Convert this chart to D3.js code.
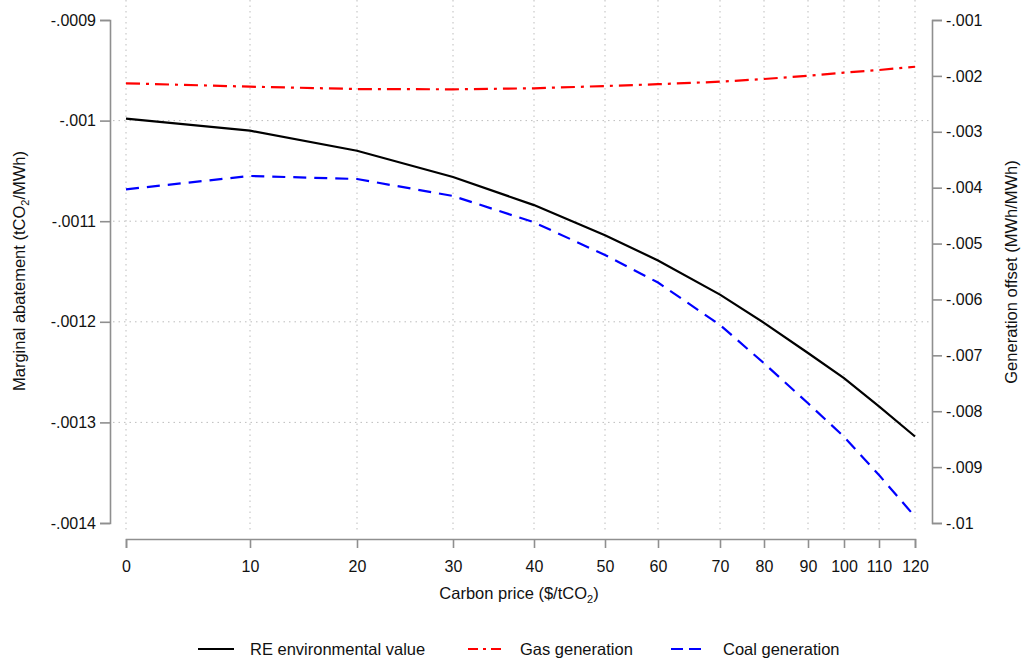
<!DOCTYPE html>
<html>
<head>
<meta charset="utf-8">
<script src="https://cdn.jsdelivr.net/npm/d3@7"></script>
<style>
  body { margin: 0; background: #fff; }
  svg { font-family: "Liberation Sans", Arial, sans-serif; }
  .grid line { stroke: #bdbdbd; stroke-width: 1; stroke-dasharray: 1.5 4; }
  .axis path, .axis line { stroke: #8f8f8f; stroke-width: 1.6; }
  .axis text { fill: #111; font-size: 16px; }
</style>
</head>
<body>
<div id="chart"></div>
<script>

// Carbon price categories (x) and where the original tick grid sits
const prices = [0, 10, 20, 30, 40, 50, 60, 70, 80, 90, 100, 110, 120];
const priceSpots = [126, 250, 357, 453, 534, 605, 658, 720, 764, 808, 844, 879, 915];

// RE environmental value (left axis, tCO2/MWh)
const reValue = [-0.000998, -0.001010, -0.001030, -0.001056, -0.001084, -0.001114, -0.001139,
                 -0.001173, -0.001201, -0.001231, -0.001256, -0.001284, -0.001314];
// Gas generation offset (right axis, MWh/MWh)
const gasGen = [-0.002133, -0.002193, -0.002235, -0.002240, -0.002222, -0.002181, -0.002149,
                -0.002104, -0.002056, -0.001997, -0.001943, -0.001895, -0.001836];
// Coal generation offset (right axis, MWh/MWh)
const coalGen = [-0.004029, -0.003791, -0.003845, -0.004149, -0.004620, -0.005205, -0.005697,
                 -0.006457, -0.007142, -0.007858, -0.008456, -0.009141, -0.009887];

const leftTicks = [-0.0009, -0.0010, -0.0011, -0.0012, -0.0013, -0.0014];
const leftLabels = ["-.0009", "-.001", "-.0011", "-.0012", "-.0013", "-.0014"];
const rightTicks = [-0.001, -0.002, -0.003, -0.004, -0.005, -0.006, -0.007, -0.008, -0.009, -0.010];
const rightLabels = ["-.001", "-.002", "-.003", "-.004", "-.005", "-.006", "-.007", "-.008", "-.009", "-.01"];

const width = 1026, height = 664;

const svg = d3.select("#chart").append("svg")
    .attr("width", width)
    .attr("height", height);

// Scales
const x = d3.scaleLinear().domain(prices).range(priceSpots);
const yL = d3.scaleLinear().domain([-0.0009, -0.0014]).range([20, 523]);
const yR = d3.scaleLinear().domain([-0.001, -0.010]).range([20, 523]);

// Grid
const grid = svg.append("g").attr("class", "grid");
grid.selectAll(".vg").data(prices).enter().append("line")
    .attr("x1", d => x(d)).attr("x2", d => x(d))
    .attr("y1", 0).attr("y2", 532);
grid.selectAll(".hg").data(leftTicks.slice(1, -1)).enter().append("line")
    .attr("x1", 113).attr("x2", 930)
    .attr("y1", d => yL(d)).attr("y2", d => yL(d));

// Axes
const leftAxis = d3.axisLeft(yL).tickValues(leftTicks)
    .tickFormat((d, i) => leftLabels[i]).tickSizeOuter(0).tickSize(10).tickPadding(4);
svg.append("g").attr("class", "axis")
    .attr("transform", "translate(110,0)")
    .call(leftAxis);

const rightAxis = d3.axisRight(yR).tickValues(rightTicks)
    .tickFormat((d, i) => rightLabels[i]).tickSizeOuter(0).tickSize(10).tickPadding(4);
svg.append("g").attr("class", "axis")
    .attr("transform", "translate(932,0)")
    .call(rightAxis);

const bottomAxis = d3.axisBottom(x).tickValues(prices)
    .tickFormat(d3.format("d")).tickSizeOuter(0).tickSize(9).tickPadding(13);
svg.append("g").attr("class", "axis")
    .attr("transform", "translate(0,539)")
    .call(bottomAxis);

// Axis titles
function titleWithSub(g, before, sub, after) {
    g.append("tspan").text(before);
    g.append("tspan").attr("font-size", "11px").attr("dy", 4).text(sub);
    g.append("tspan").attr("dy", -4).text(after);
}

titleWithSub(svg.append("text")
    .attr("x", 519).attr("y", 599)
    .attr("text-anchor", "middle")
    .attr("font-size", "16.5px").attr("fill", "#111"),
    "Carbon price ($/tCO", "2", ")");

titleWithSub(svg.append("text")
    .attr("transform", "translate(25,271) rotate(-90)")
    .attr("text-anchor", "middle")
    .attr("font-size", "16.5px").attr("fill", "#111"),
    "Marginal abatement (tCO", "2", "/MWh)");

svg.append("text")
    .attr("transform", "translate(1017,272) rotate(-90)")
    .attr("text-anchor", "middle")
    .attr("font-size", "16.5px").attr("fill", "#111")
    .text("Generation offset (MWh/MWh)");

// Lines
const series = [
    {name: "RE environmental value", values: reValue, y: yL, color: "#000", dash: null},
    {name: "Gas generation", values: gasGen, y: yR, color: "#ff0000", dash: "14 6 3 6"},
    {name: "Coal generation", values: coalGen, y: yR, color: "#0000ff", dash: "13 8"}
];

series.forEach(function(s) {
    const line = d3.line()
        .x((d, i) => x(prices[i]))
        .y(d => s.y(d));
    svg.append("path")
        .attr("d", line(s.values))
        .attr("fill", "none")
        .attr("stroke", s.color)
        .attr("stroke-width", 2.2)
        .attr("stroke-dasharray", s.dash);
});

// Legend
const legendX = [198, 468, 671];
const legend = svg.append("g");
series.forEach(function(s, i) {
    legend.append("line")
        .attr("x1", legendX[i]).attr("x2", legendX[i] + 36)
        .attr("y1", 649).attr("y2", 649)
        .attr("stroke", s.color)
        .attr("stroke-width", 2.2)
        .attr("stroke-dasharray", s.dash ? (i === 1 ? "10 5 3 5" : "12 6") : null);
    legend.append("text")
        .attr("x", legendX[i] + 52).attr("y", 655)
        .attr("font-size", "16.5px").attr("fill", "#111")
        .text(s.name);
});

</script>
</body>
</html>
